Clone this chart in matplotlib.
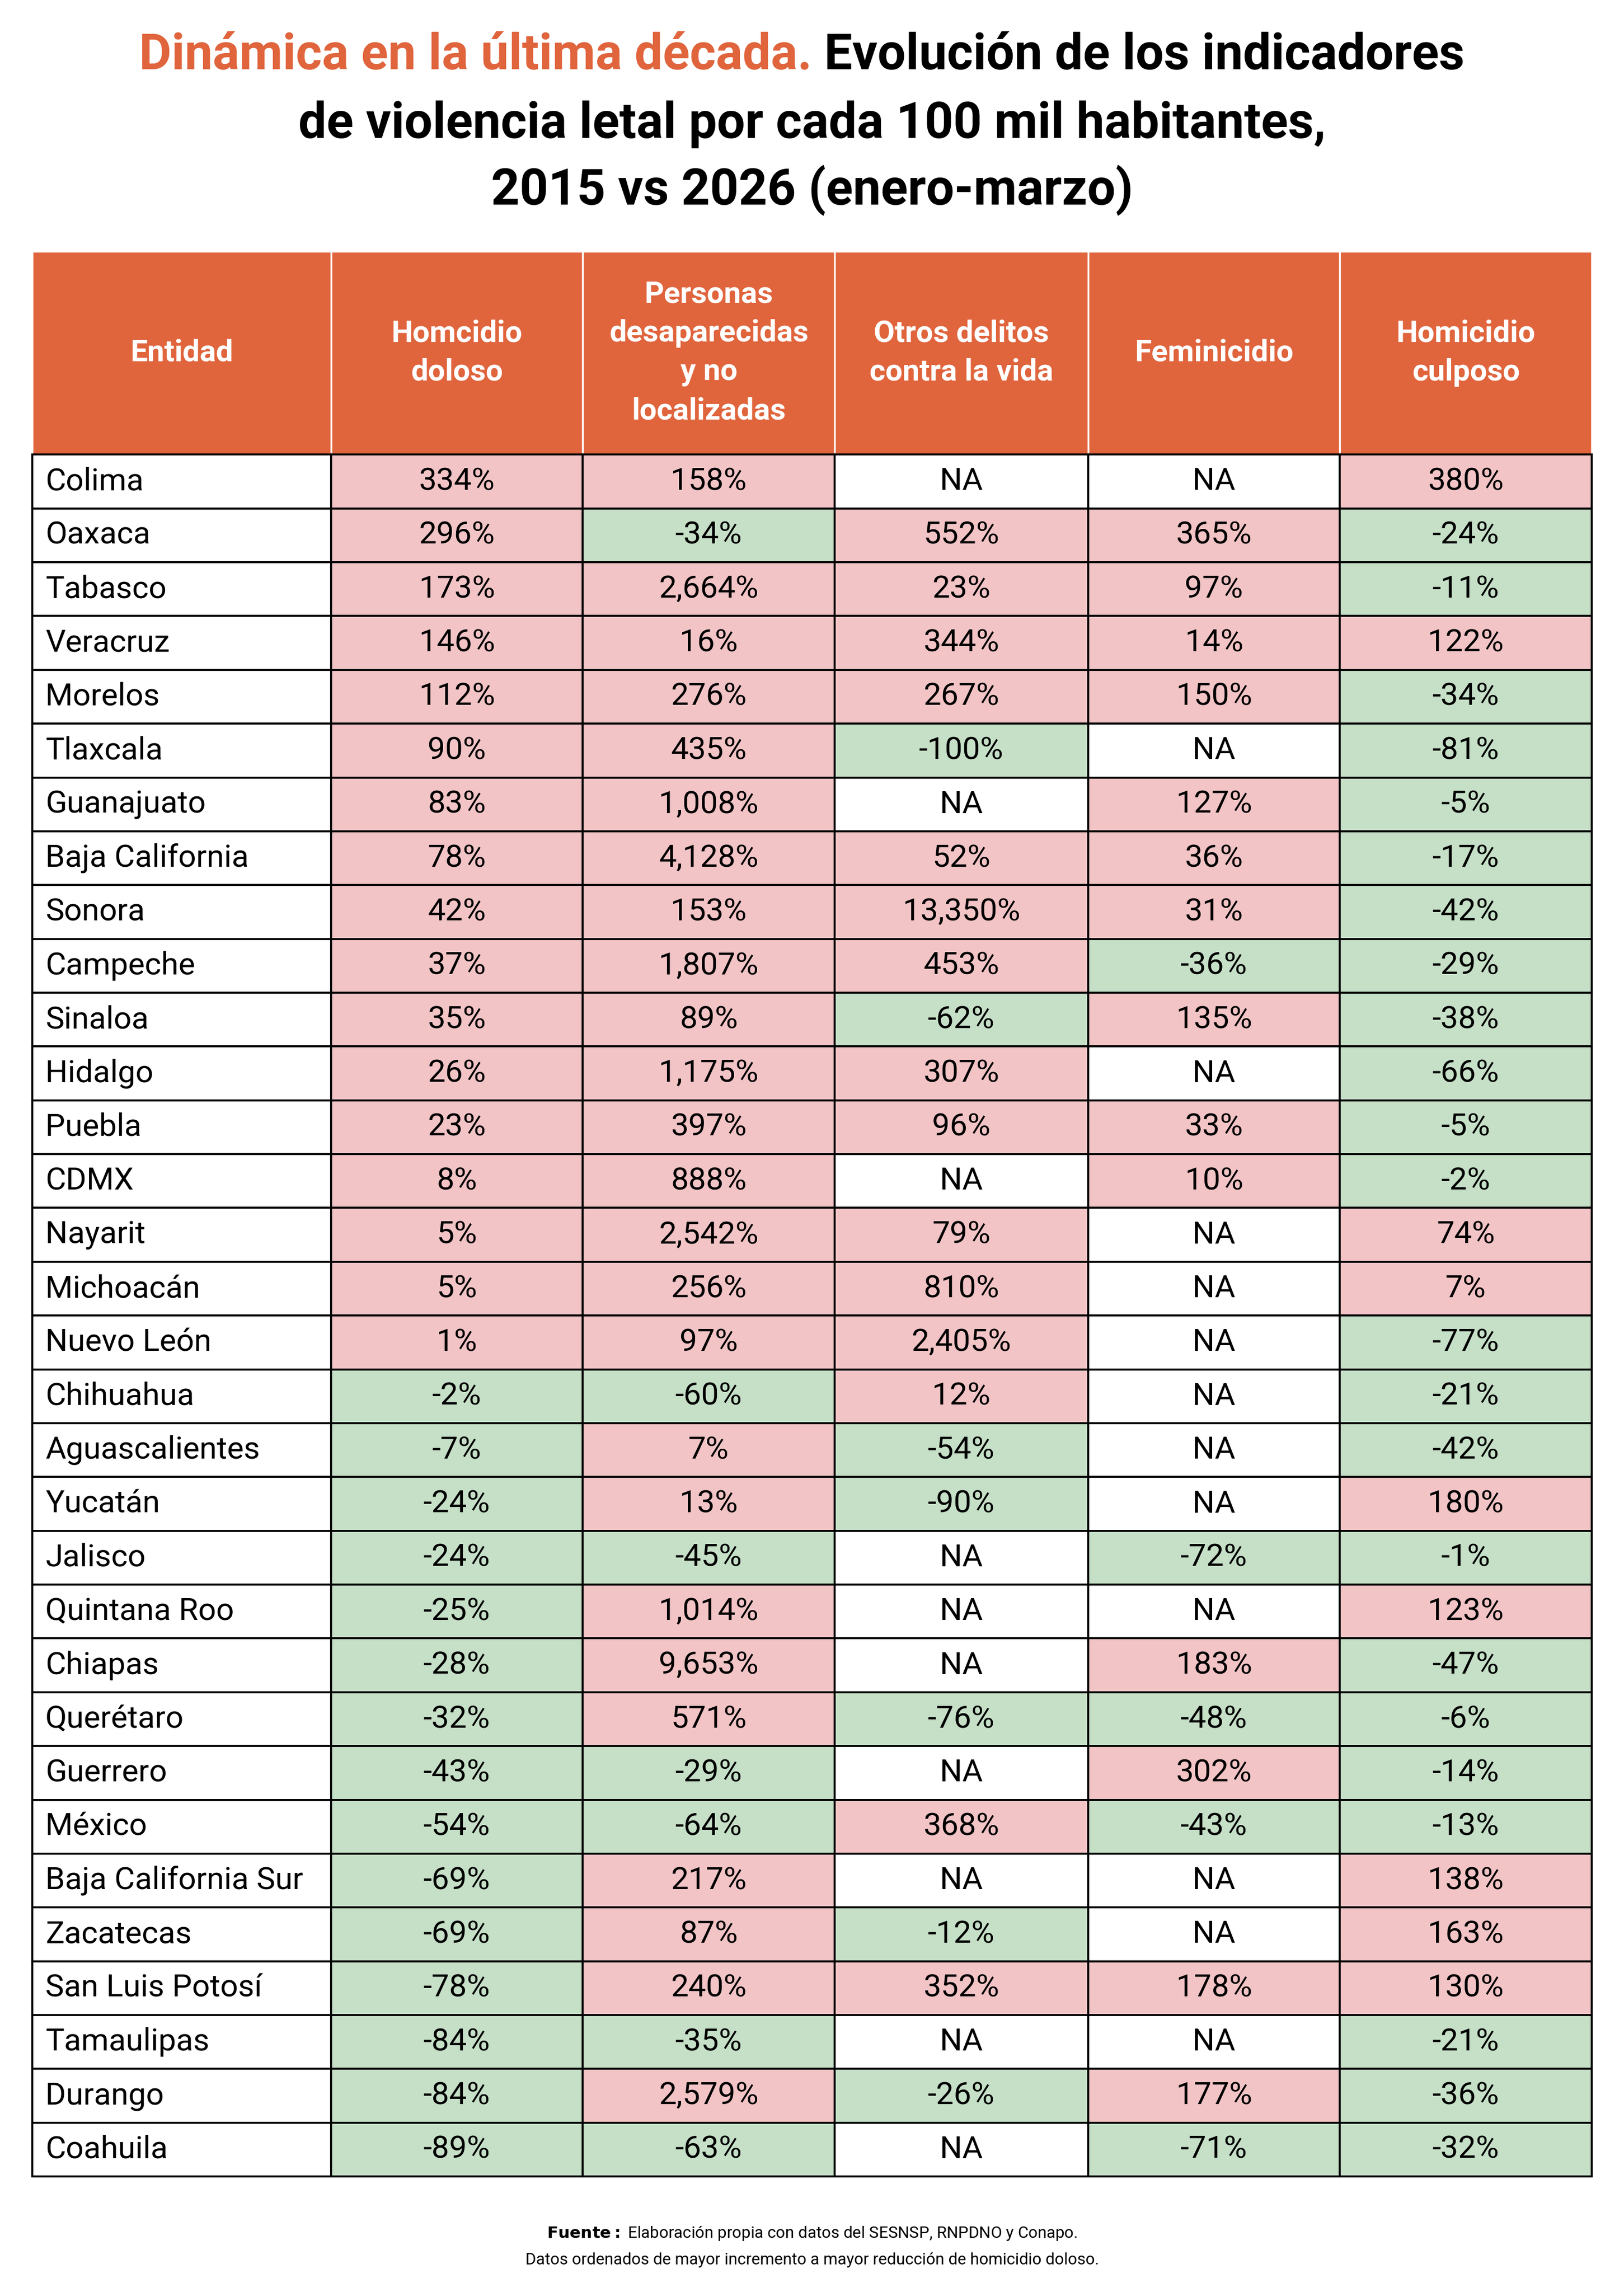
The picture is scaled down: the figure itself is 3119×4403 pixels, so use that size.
import matplotlib
matplotlib.use("Agg")
import matplotlib.pyplot as plt
from matplotlib.patches import Rectangle

estados = ["Colima","Oaxaca","Tabasco","Veracruz","Morelos","Tlaxcala","Guanajuato","Baja California","Sonora","Campeche","Sinaloa","Hidalgo","Puebla","CDMX","Nayarit","Michoacán","Nuevo León","Chihuahua","Aguascalientes","Yucatán","Jalisco","Quintana Roo","Chiapas","Querétaro","Guerrero","México","Baja California Sur","Zacatecas","San Luis Potosí","Tamaulipas","Durango","Coahuila"]
homicidio_doloso = [334,296,173,146,112,90,83,78,42,37,35,26,23,8,5,5,1,-2,-7,-24,-24,-25,-28,-32,-43,-54,-69,-69,-78,-84,-84,-89]
desaparecidas = [158,-34,2664,16,276,435,1008,4128,153,1807,89,1175,397,888,2542,256,97,-60,7,13,-45,1014,9653,571,-29,-64,217,87,240,-35,2579,-63]
otros_delitos = [None,552,23,344,267,-100,None,52,13350,453,-62,307,96,None,79,810,2405,12,-54,-90,None,None,None,-76,None,368,None,-12,352,None,-26,None]
feminicidio = [None,365,97,14,150,None,127,36,31,-36,135,None,33,10,None,None,None,None,None,None,-72,None,183,-48,302,-43,None,None,178,None,177,-71]
homicidio_culposo = [380,-24,-11,122,-34,-81,-5,-17,-42,-29,-38,-66,-5,-2,74,7,-77,-21,-42,180,-1,123,-47,-6,-14,-13,138,163,130,-21,-36,-32]
headers = ["Entidad","Homcidio\ndoloso","Personas\ndesaparecidas\ny no\nlocalizadas","Otros delitos\ncontra la vida","Feminicidio","Homicidio\nculposo"]

ORANGE = "#E0643C"; PINK = "#F2C4C6"; GREEN = "#C6E0C8"
plt.rcParams['font.family'] = ['Roboto', 'DejaVu Sans']

W, H = 1109, 1568
fig = plt.figure(figsize=(3119/300, 4403/300), dpi=300)
ax = fig.add_axes([0, 0, 1, 1])
ax.set_xlim(0, W); ax.set_ylim(H, 0); ax.axis("off")

# Title
ax.text(W/2, 38, "Dinámica en la última década.", color=ORANGE, fontsize=23, fontweight="bold", ha="right", va="center")
ax.text(W/2, 38, " Evolución de los indicadores", color="black", fontsize=23, fontweight="bold", ha="left", va="center")
ax.text(W/2, 85, "de violencia letal por cada 100 mil habitantes,", fontsize=23, fontweight="bold", ha="center", va="center")
ax.text(W/2, 130, "2015 vs 2026 (enero-marzo)", fontsize=23, fontweight="bold", ha="center", va="center")

xs = [22, 226, 398, 570, 743, 915, 1087]
top, hb, bottom = 172, 311, 1489
rh = (bottom - hb) / len(estados)

for i, h in enumerate(headers):
    ax.add_patch(Rectangle((xs[i], top), xs[i+1]-xs[i], hb-top, facecolor=ORANGE, edgecolor="white", lw=0.8))
    ax.text((xs[i]+xs[i+1])/2, (top+hb)/2, h, color="white", fontsize=14, fontweight="bold",
            ha="center", va="center", linespacing=1.45)

def fmt(v):
    return "NA" if v is None else f"{v:,}%"

cols = [homicidio_doloso, desaparecidas, otros_delitos, feminicidio, homicidio_culposo]
for r, name in enumerate(estados):
    y = hb + r*rh
    ax.add_patch(Rectangle((xs[0], y), xs[1]-xs[0], rh, facecolor="white", edgecolor="black", lw=0.9))
    ax.text(xs[0]+9, y+rh/2, name, fontsize=14.5, ha="left", va="center")
    for c, col in enumerate(cols):
        v = col[r]
        fc = "white" if v is None else (PINK if v > 0 else GREEN)
        ax.add_patch(Rectangle((xs[c+1], y), xs[c+2]-xs[c+1], rh, facecolor=fc, edgecolor="black", lw=0.9))
        ax.text((xs[c+1]+xs[c+2])/2, y+rh/2, fmt(v), fontsize=14.5, ha="center", va="center")

ax.text(W/2, 1528, r"$\bf{Fuente:}$ Elaboración propia con datos del SESNSP, RNPDNO y Conapo.", fontsize=7.5, ha="center", va="center")
ax.text(W/2, 1546, "Datos ordenados de mayor incremento a mayor reducción de homicidio doloso.", fontsize=7.5, ha="center", va="center")

fig.savefig("out.png", dpi=300, facecolor="white")
